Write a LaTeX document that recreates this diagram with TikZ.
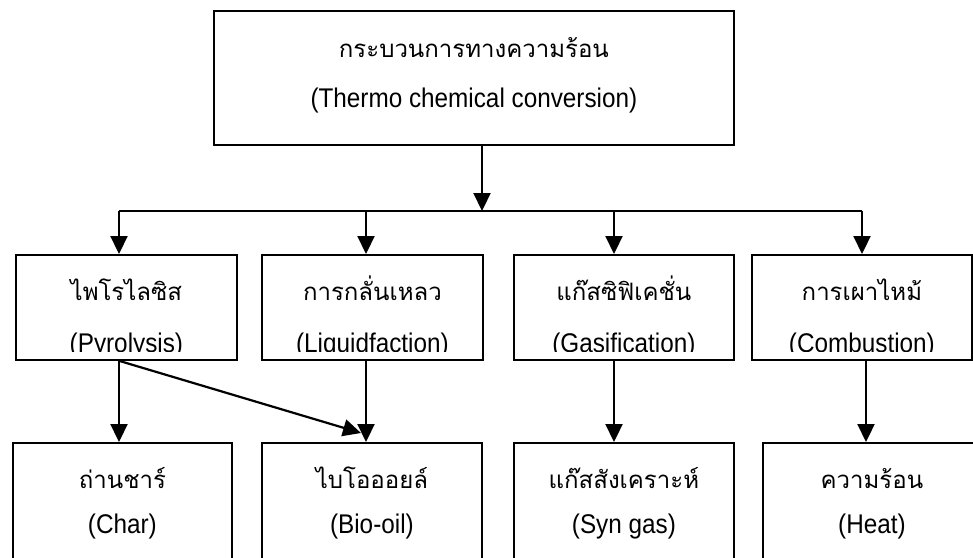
\documentclass[tikz,border=0pt]{standalone}
\usepackage{fontspec}
\setmainfont[FakeStretch=0.9]{Liberation Sans}
\newfontfamily\thaifont[Script=Thai]{Loma}
\usetikzlibrary{arrows.meta,calc}

\begin{document}
\begin{tikzpicture}[x=1pt,y=-1pt,
  box/.style={draw,line width=1.8pt,inner sep=0pt,anchor=north west},
  link/.style={line width=2.2pt,-{Triangle[length=18pt,width=17pt]}},
  busline/.style={line width=1.8pt},
  th/.style={font=\thaifont\fontsize{24}{28}\selectfont,anchor=base,inner sep=0pt},
  en/.style={font=\fontsize{27}{31}\selectfont,anchor=base,inner sep=0pt}]
\useasboundingbox (0,0) rectangle (973,557);
\clip (0,0) rectangle (973,557);

% main process box
\node[box,minimum width=520pt,minimum height=134pt] (top) at (213,10) {};
% process boxes
\node[box,minimum width=221pt,minimum height=105pt] (p) at (15,254) {};
\node[box,minimum width=221pt,minimum height=105pt] (l) at (261,254) {};
\node[box,minimum width=220pt,minimum height=105pt] (g) at (513,254) {};
\node[box,minimum width=220pt,minimum height=105pt] (c) at (751,254) {};
% product boxes (run past the lower edge)
\node[box,minimum width=219pt,minimum height=160pt] (ch) at (12,442) {};
\node[box,minimum width=220pt,minimum height=160pt] (bo) at (261,442) {};
\node[box,minimum width=220pt,minimum height=160pt] (sg) at (513,442) {};
\node[box,minimum width=218pt,minimum height=160pt] (ht) at (762,442) {};

% labels
\node[th] (top-th) at ($(top.north)+(0,47)$) {กระบวนการทางความร้อน};
\node[en] (top-en) at ($(top.north)+(0,97)$) {(Thermo chemical conversion)};

\node[th] (p-th) at ($(p.north)+(0,46)$) {ไพโรไลซิส};
\node[th] (l-th) at ($(l.north)+(0,46)$) {การกลั่นเหลว};
\node[th] (g-th) at ($(g.north)+(0,46)$) {แก๊สซิฟิเคชั่น};
\node[th] (c-th) at ($(c.north)+(0,46)$) {การเผาไหม้};
\foreach \b/\t in {p/(Pyrolysis), l/(Liquidfaction), g/(Gasification), c/(Combustion)}{
  \begin{scope}
    \clip ($(\b.north west)+(2,2)$) rectangle ($(\b.south east)+(-2,-9)$);
    \node[en] (\b-en) at ($(\b.north)+(0,98)$) {\t};
  \end{scope}
}

\node[th] (ch-th) at ($(ch.north)+(0,46)$) {ถ่านชาร์};
\node[th] (bo-th) at ($(bo.north)+(0,46)$) {ไบโอออยล์};
\node[th] (sg-th) at ($(sg.north)+(0,46)$) {แก๊สสังเคราะห์};
\node[th] (ht-th) at ($(ht.north)+(0,46)$) {ความร้อน};
\node[en] (ch-en) at ($(ch.north)+(0,91)$) {(Char)};
\node[en] (bo-en) at ($(bo.north)+(0,91)$) {(Bio-oil)};
\node[en] (sg-en) at ($(sg.north)+(0,91)$) {(Syn gas)};
\node[en] (ht-en) at ($(ht.north)+(0,91)$) {(Heat)};

% branching bus
\coordinate (hub) at (482,211);
\coordinate (k1) at (119,211);
\coordinate (k2) at (366,211);
\coordinate (k3) at (614,211);
\coordinate (k4) at (862,211);
\coordinate (k5) at (866,211);

\draw[link] (top.south -| hub) -- (hub);
\draw[busline] (k1) -- (k4);
\draw[link] (k1) -- (k1 |- p.north);
\draw[link] (k2) -- (k2 |- l.north);
\draw[link] (k3) -- (k3 |- g.north);
\draw[link] (k4) -- (k4 |- c.north);

% process to product
\draw[link] (k1 |- p.south) -- (k1 |- ch.north);
\draw[link] (k1 |- p.south) -- ($(k2 |- bo.north)+(-5,-9)$);
\draw[link] (k2 |- l.south) -- (k2 |- bo.north);
\draw[link] (k3 |- g.south) -- (k3 |- sg.north);
\draw[link] (k5 |- c.south) -- (k5 |- ht.north);
\end{tikzpicture}
\end{document}
